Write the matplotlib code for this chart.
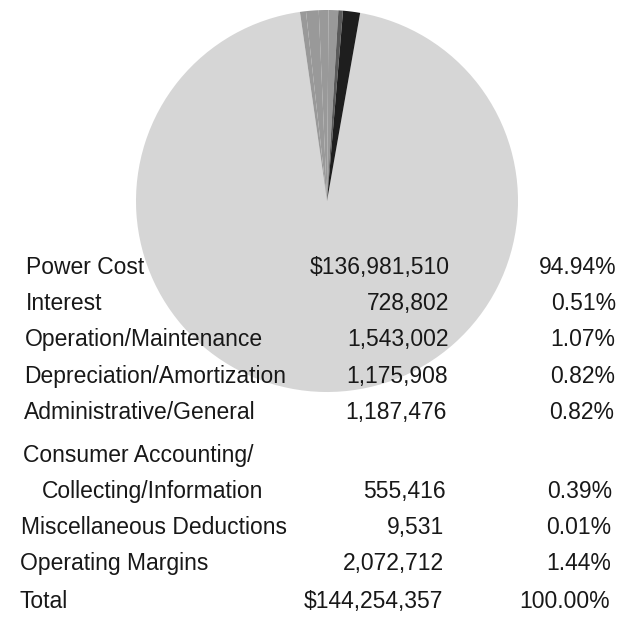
"""
Cost breakdown pie with the itemised table laid over its lower half.
"""

import matplotlib.pyplot as plt

# ------------------------------------------------------------
# data
# ------------------------------------------------------------
ITEMS = [
    "Power Cost",
    "Interest",
    "Operation/Maintenance",
    "Depreciation/Amortization",
    "Administrative/General",
    "Consumer Accounting/\nCollecting/Information",
    "Miscellaneous Deductions",
    "Operating Margins",
]
AMOUNTS = [136981510, 728802, 1543002, 1175908, 1187476, 555416, 9531, 2072712]
PERCENTS = [94.94, 0.51, 1.07, 0.82, 0.82, 0.39, 0.01, 1.44]
TOTAL_AMOUNT = 144254357
TOTAL_PERCENT = 100.00

# slice shades (scanned greys)
SHADES = ["#d6d6d6", "#999999", "#999999", "#999999", "#999999",
          "#5a5a5a", "#b0b0b0", "#1e1e1e"]

W, H = 624, 619
DPI = 100

plt.rcParams["font.family"] = ["Liberation Sans", "DejaVu Sans"]

fig = plt.figure(figsize=(W / DPI, H / DPI), dpi=DPI)

# pie: centre (327, 201) px, radius 191 px
cx, cy, r = 327, 201, 191
ax = fig.add_axes([(cx - r) / W, (H - cy - r) / H, 2 * r / W, 2 * r / H])
ax.pie(AMOUNTS, colors=SHADES, startangle=80, counterclock=False,
       radius=1.0, wedgeprops=dict(linewidth=0, antialiased=True))
ax.set_xlim(-1, 1)
ax.set_ylim(-1, 1)
ax.set_aspect("equal")
ax.axis("off")

fs = 16.5
txt_col = "#181818"


def fmt_amount(v, dollar=False):
    s = f"{v:,}"
    return "$" + s if dollar else s


def skew(y):
    # the scanned table drifts a few pixels left toward the bottom
    return -7.0 * (y - 265) / 334


def put(x, y, s, ha):
    fig.text((x + skew(y)) / W, 1 - y / H, s, fontsize=fs, color=txt_col,
             ha=ha, va="center_baseline")


# table rows (vertical centres of the caps, px)
row_y = [265, 301, 337, 374, 410, 489, 525, 561]
cont_y = 453          # first line of the two-line label
total_y = 599

LBL_X, VAL_X, PCT_X = 26.5, 450, 617

for name, amt, pct, y in zip(ITEMS, AMOUNTS, PERCENTS, row_y):
    if "\n" in name:
        first, second = name.split("\n")
        put(LBL_X, cont_y, first, "left")
        put(LBL_X + 20, y, second, "left")
    else:
        put(LBL_X, y, name, "left")
    put(VAL_X, y, fmt_amount(amt, dollar=(name == ITEMS[0])), "right")
    put(PCT_X, y, f"{pct:.2f}%", "right")

put(LBL_X, total_y, "Total", "left")
put(VAL_X, total_y, fmt_amount(TOTAL_AMOUNT, dollar=True), "right")
put(PCT_X, total_y, f"{TOTAL_PERCENT:.2f}%", "right")

fig.savefig("out.png", dpi=DPI, facecolor="white")
